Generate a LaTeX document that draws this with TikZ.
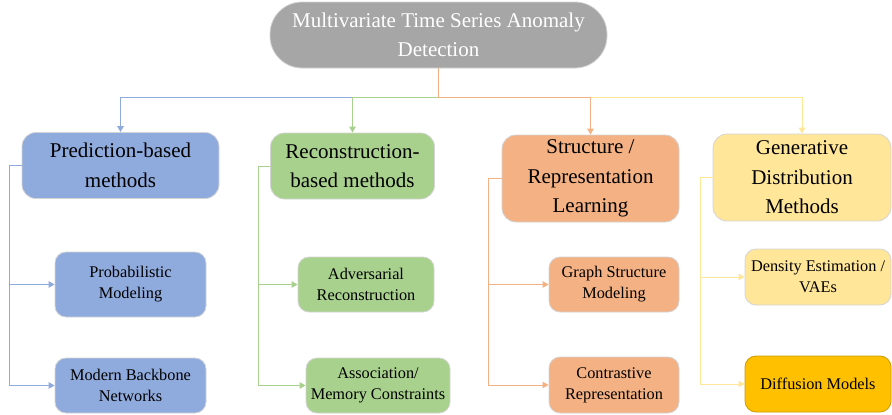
\documentclass[tikz,border=0pt]{standalone}
\usepackage{fontspec}
\setmainfont{Liberation Serif}
\usetikzlibrary{arrows.meta}
\definecolor{cblue}{HTML}{8FAADC}
\definecolor{cgreen}{HTML}{A9D18E}
\definecolor{corange}{HTML}{F4B183}
\definecolor{cyellow}{HTML}{FFE699}
\definecolor{cgold}{HTML}{FFC000}
\definecolor{cgray}{HTML}{A6A6A6}
\definecolor{cborder}{HTML}{D4D4D4}
\begin{document}
\begin{tikzpicture}[x=1pt,y=-1pt,
  box/.style={draw=cborder,line width=0.8pt,rounded corners=14pt,align=center,inner sep=0pt,
    font=\fontsize{21}{29.5}\selectfont},
  sub/.style={draw=cborder,line width=0.8pt,rounded corners=11pt,align=center,inner sep=0pt,
    font=\fontsize{16.3}{21}\selectfont},
  conn/.style={line width=1pt,-{Triangle[length=6pt,width=6.5pt]}},
  rail/.style={line width=1pt,-{Triangle[length=6pt,width=6.5pt]}}
]
\useasboundingbox (0,0) rectangle (892,415);

\node[draw=cborder,line width=0.8pt,fill=cgray,rounded corners=32pt,minimum width=337pt,minimum height=66pt,
  align=center,inner sep=0pt,text=white,font=\fontsize{21}{29}\selectfont]
  (root) at (438.5,35) {Multivariate Time Series Anomaly\\Detection};

\node[box,fill=cblue,minimum width=197pt,minimum height=66pt] (pred) at (120.5,165.5) {Prediction-based\\methods};
\node[box,fill=cgreen,minimum width=164pt,minimum height=66pt] (recon) at (352.5,166) {Reconstruction-\\based methods};
\node[box,fill=corange,minimum width=177pt,minimum height=87pt] (struct) at (590.5,178.5) {Structure /\\Representation\\Learning};
\node[box,fill=cyellow,minimum width=178pt,minimum height=87pt] (gen) at (802,177.5) {Generative\\Distribution\\Methods};

\node[sub,fill=cblue,minimum width=151pt,minimum height=65pt] (prob) at (130.5,284.5) {Probabilistic\\Modeling};
\node[sub,fill=cblue,minimum width=151pt,minimum height=55pt] (modern) at (130.5,385.5) {Modern Backbone\\Networks};
\node[sub,fill=cgreen,minimum width=136pt,minimum height=55pt] (adv) at (366,284.5) {Adversarial\\Reconstruction};
\node[sub,fill=cgreen,minimum width=144pt,minimum height=55pt] (assoc) at (378,385.5) {Association/\\Memory Constraints};
\node[sub,fill=corange,minimum width=130pt,minimum height=55pt] (graph) at (614,284.5) {Graph Structure\\Modeling};
\node[sub,fill=corange,minimum width=130pt,minimum height=56pt] (contr) at (614,385) {Contrastive\\Representation};
\node[sub,fill=cyellow,minimum width=146pt,minimum height=56pt] (dens) at (818,277) {Density Estimation /\\VAEs};
\node[sub,fill=cgold,draw=cgold!80!black,minimum width=146pt,minimum height=56pt] (diff) at (818,384) {Diffusion Models};

\coordinate (hub) at (438.5,97);
\draw[conn,cblue] (root.south) -- (hub) -| (pred.north);
\draw[conn,cgreen] (root.south) -- (hub) -| (recon.north);
\draw[conn,cyellow] (root.south) -- (hub) -| (gen.north);
\draw[conn,corange] (root.south) -- (hub) -| (struct.north);

\draw[rail,cblue] (pred.west) -- ++(-12,0) |- (prob.west);
\draw[rail,cblue] (pred.west) -- ++(-12,0) |- (modern.west);
\draw[rail,cgreen] (recon.west) -- ++(-12,0) |- (adv.west);
\draw[rail,cgreen] (recon.west) -- ++(-12,0) |- (assoc.west);
\draw[rail,corange] (struct.west) -- ++(-13,0) |- (graph.west);
\draw[rail,corange] (struct.west) -- ++(-13,0) |- (contr.west);
\draw[rail,cyellow] (gen.west) -- ++(-12,0) |- (dens.west);
\draw[rail,cyellow] (gen.west) -- ++(-12,0) |- (diff.west);
\end{tikzpicture}
\end{document}
